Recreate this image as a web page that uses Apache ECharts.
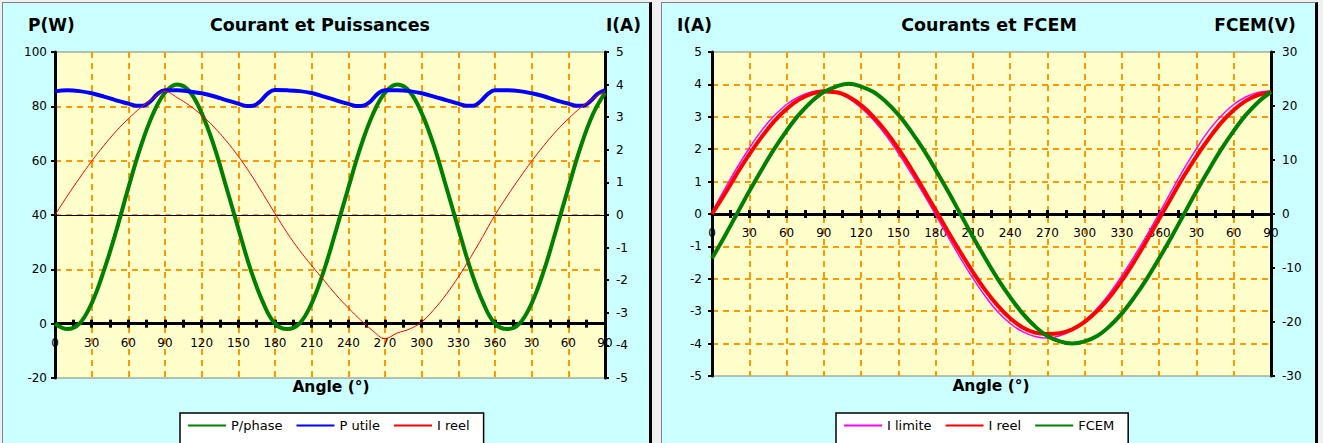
<!DOCTYPE html>
<html>
<head>
<meta charset="utf-8">
<script src="https://cdn.jsdelivr.net/npm/echarts@6/dist/echarts.min.js"></script>
<style>
  html, body { margin:0; padding:0; width:1323px; height:443px; overflow:hidden; background:#F0F0F0; }
  .panel { position:absolute; top:2px; height:460px; background:#CCFFFF;
           border-left:1px solid #808080; border-top:1px solid #808080; border-right:3px solid #000; }
  #pl { left:2px; width:646px; }
  #pr { left:661px; width:653px; }
  .chart { position:absolute; top:0; height:443px; }
  #cl { left:0; width:656px; }
  #cr { left:656px; width:667px; }
</style>
</head>
<body>
<div id="pl" class="panel"></div>
<div id="pr" class="panel"></div>
<div id="cl" class="chart"></div>
<div id="cr" class="chart"></div>
<script>
// ---------- DATA ----------
const angleLabels = ['0','30','60','90','120','150','180','210','240','270','300','330','360','30','60','90'];
const angles = [0,10,20,30,40,50,60,70,80,90,100,110,120,130,140,150,160,170,180,190,200,210,220,230,240,250,260,270,280,290,300,310,320,330,340,350,360,370,380,390,400,410,420,430,440,450];

// Left chart: Courant et Puissances
const pPhase = [0,-2,0,7.5,19.5,34,50,65,77,85, 88,85.5,77.5,65.5,50.5,35,20,8,0, -2,0,7.5,19.5,34.5,50,65,77,85, 88,85.5,77.5,65.5,50.5,35,20,8,0, -2,0,7.5,19.5,34.5,50,65,77,85];
const pUtileAngles = [0,10,20,30,40,50,60,67,72,78,84, 90,100,110,120,130,140,150,157,162,168,174, 180,190,200,210,220,230,240,247,252,258,264, 270,280,290,300,310,320,330,337,342,348,354, 360,370,380,390,400,410,420,427,432,438,444, 450];
const pUtile = [85.5,85.9,85.6,84.8,83.6,82.2,81.0,80.2,80.2,81.8,84.6, 85.9,85.9,85.5,84.8,83.7,82.3,81.0,80.1,80.2,81.9,84.7, 86.0,85.9,85.6,84.9,83.6,82.2,80.9,80.1,80.2,81.8,84.6, 85.9,85.9,85.6,84.8,83.6,82.3,81.0,80.2,80.2,81.8,84.5, 85.9,85.9,85.6,84.8,83.7,82.2,81.0,80.2,80.2,81.9,84.6, 86.0];
const iReelL = [0,0.58,1.13,1.65,2.13,2.57,2.95,3.29,3.57,3.79, 3.6,3.36,3.06,2.7,2.28,1.8,1.26,0.66,0.04, -0.55,-1.08,-1.55,-2.0,-2.45,-2.85,-3.22,-3.55,-3.79, -3.62,-3.5,-3.28,-2.9,-2.44,-1.9,-1.3,-0.66,0, 0.58,1.13,1.65,2.13,2.57,2.95,3.29,3.57,3.79];

// Right chart: Courants et FCEM
const iLimite = [0.05,0.75,1.42,2.03,2.58,3.03,3.38,3.62,3.77,3.82, 3.75,3.57,3.28,2.9,2.43,1.88,1.28,0.64,-0.02, -0.7,-1.36,-1.98,-2.54,-3.02,-3.38,-3.63,-3.78,-3.83, -3.76,-3.58,-3.3,-2.92,-2.45,-1.9,-1.3,-0.66,0.02, 0.72,1.4,2.02,2.58,3.03,3.38,3.62,3.76,3.8];
const iReelR = [0,0.6,1.24,1.84,2.38,2.86,3.24,3.53,3.71,3.78, 3.76,3.62,3.36,3.0,2.55,2.02,1.42,0.78,0.12, -0.54,-1.18,-1.79,-2.35,-2.83,-3.22,-3.5,-3.66,-3.7, -3.68,-3.56,-3.33,-3.0,-2.57,-2.05,-1.46,-0.82,-0.15, 0.52,1.18,1.78,2.33,2.82,3.21,3.5,3.68,3.76];
const fcem = [-8.2,-4.2,0,4.2,8.2,12,15.4,18.4,20.8,22.6, 23.6,24.1,23.6,22.6,20.8,18.4,15.4,12,8.2, 4.2,0,-4.2,-8.2,-12,-15.4,-18.4,-20.8,-22.6, -23.6,-24,-23.6,-22.6,-20.8,-18.4,-15.4,-12,-8.2, -4.2,0,4.2,8.2,12,15.4,18.4,20.8,22.6];

// ---------- HELPERS ----------
const FONT = 'DejaVu Sans';
const pairs = (xs, ys) => xs.map((x, i) => [x, ys[i]]);
const gridLine = { show:true, showMinLine:false, showMaxLine:false, lineStyle:{ color:'#FF9900', type:[6,5], width:2 } };
const xLabelFmt = v => angleLabels[Math.round(v / 30)];

// the angle axis crosses the left value axis at 0: shift it up from the grid bottom
function zeroOffset(gridH, yMin, yMax) { return -gridH * (0 - yMin) / (yMax - yMin); }

function xAxes(offset, extraLineIdx) {
  const base = { type:'value', min:0, max:450, interval:30, position:'bottom', offset:offset };
  const axes = [
    Object.assign({}, base, {
      axisLine:{ show:true, onZero:false, lineStyle:{ color:'#000', width:3 } },
      axisTick:{ show:true, inside:false, length:4, lineStyle:{ color:'#000', width:3 } },
      minorTick:{ show:true, splitNumber:2, length:4, lineStyle:{ color:'#000', width:3 } },
      axisLabel:{ show:true, formatter:xLabelFmt, margin:13, color:'#000', fontFamily:FONT, fontSize:12, hideOverlap:false, showMinLabel:true, showMaxLabel:true },
      splitLine: gridLine
    }),
    Object.assign({}, base, {
      axisLine:{ show:false, onZero:false },
      axisTick:{ show:true, inside:true, length:4, lineStyle:{ color:'#000', width:3 } },
      minorTick:{ show:true, splitNumber:2, length:4, lineStyle:{ color:'#000', width:3 } },
      axisLabel:{ show:false }, splitLine:{ show:false }
    })
  ];
  if (extraLineIdx != null) {
    axes.push({ type:'value', min:0, max:450, position:'bottom',
      axisLine:{ show:true, onZero:true, onZeroAxisIndex:extraLineIdx, lineStyle:{ color:'#000', width:1 } },
      axisTick:{ show:false }, axisLabel:{ show:false }, splitLine:{ show:false }
    });
  }
  return axes;
}

function yAxis(pos, min, max, interval, margin, split) {
  return {
    type:'value', position:pos, min:min, max:max, interval:interval,
    axisLine:{ show:true, onZero:false, lineStyle:{ color:'#000', width:3 } },
    axisTick:{ show:true, length:4, lineStyle:{ color:'#000', width:2 } },
    axisLabel:{ margin:margin, color:'#000', fontFamily:FONT, fontSize:12 },
    splitLine: split ? gridLine : { show:false }
  };
}

function txt(x, y, s, size, align) {
  return { type:'text', x:x, y:y, z:100, style:{ text:s, fill:'#000', font:'bold ' + size + 'px "' + FONT + '"', textAlign:align || 'left', textVerticalAlign:'middle' } };
}

function line(name, data, color, width, yIdx) {
  return { name:name, type:'line', data:data, xAxisIndex:0, yAxisIndex:yIdx, smooth:0.4, symbol:'none',
           lineStyle:{ color:color, width:width }, itemStyle:{ color:color }, z:3 };
}

function legend(names) {
  return {
    data:names, left:180, top:413, orient:'horizontal',
    itemWidth:38, itemHeight:14, itemGap:13, padding:[6,14,30,7],
    backgroundColor:'#FFFFFF', borderColor:'#000', borderWidth:1.5,
    itemStyle:{ color:'rgba(0,0,0,0)', borderWidth:0 },
    textStyle:{ color:'#000', fontFamily:FONT, fontSize:13 },
    selectedMode:false
  };
}

// ---------- LEFT CHART ----------
const LH = 326;
const cl = echarts.init(document.getElementById('cl'), null, { renderer:'svg' });
cl.setOption({
  animation:false,
  backgroundColor:'transparent',
  grid:{ left:55, top:52, width:550, height:LH, show:true, backgroundColor:'#FFFFCC', borderColor:'#808080', borderWidth:1 },
  xAxis: xAxes(zeroOffset(LH, -20, 100), 1),
  yAxis: [ yAxis('left', -20, 100, 20, 8, true), yAxis('right', -5, 5, 1, 11, false) ],
  legend: legend(['P/phase','P utile','I reel']),
  series: [
    line('P/phase', pairs(angles, pPhase), '#008000', 4, 0),
    line('P utile', pairs(pUtileAngles, pUtile), '#0000FF', 4, 0),
    line('I reel', pairs(angles, iReelL), '#FF0000', 1, 1)
  ],
  graphic: [
    txt(28, 25, 'P(W)', 17),
    txt(320, 25, 'Courant et Puissances', 17.5, 'center'),
    txt(606, 25, 'I(A)', 17),
    txt(331, 387, 'Angle (°)', 15.5, 'center')
  ]
});

// ---------- RIGHT CHART ----------
const RH = 324;
const cr = echarts.init(document.getElementById('cr'), null, { renderer:'svg' });
cr.setOption({
  animation:false,
  backgroundColor:'transparent',
  grid:{ left:56, top:52, width:559, height:RH, show:true, backgroundColor:'#FFFFCC', borderColor:'#808080', borderWidth:1 },
  xAxis: xAxes(zeroOffset(RH, -5, 5), null),
  yAxis: [ yAxis('left', -5, 5, 1, 10, true), yAxis('right', -30, 30, 10, 11, false) ],
  legend: legend(['I limite','I reel','FCEM']),
  series: [
    line('I limite', pairs(angles, iLimite), '#FF00FF', 1.5, 0),
    line('I reel', pairs(angles, iReelR), '#FF0000', 4, 0),
    line('FCEM', pairs(angles, fcem), '#008000', 4, 1)
  ],
  graphic: [
    txt(21, 25, 'I(A)', 17),
    txt(333, 25, 'Courants et FCEM', 17.5, 'center'),
    txt(599, 25, 'FCEM(V)', 17, 'center'),
    txt(335, 386, 'Angle (°)', 15.5, 'center')
  ]
});
</script>
</body>
</html>
